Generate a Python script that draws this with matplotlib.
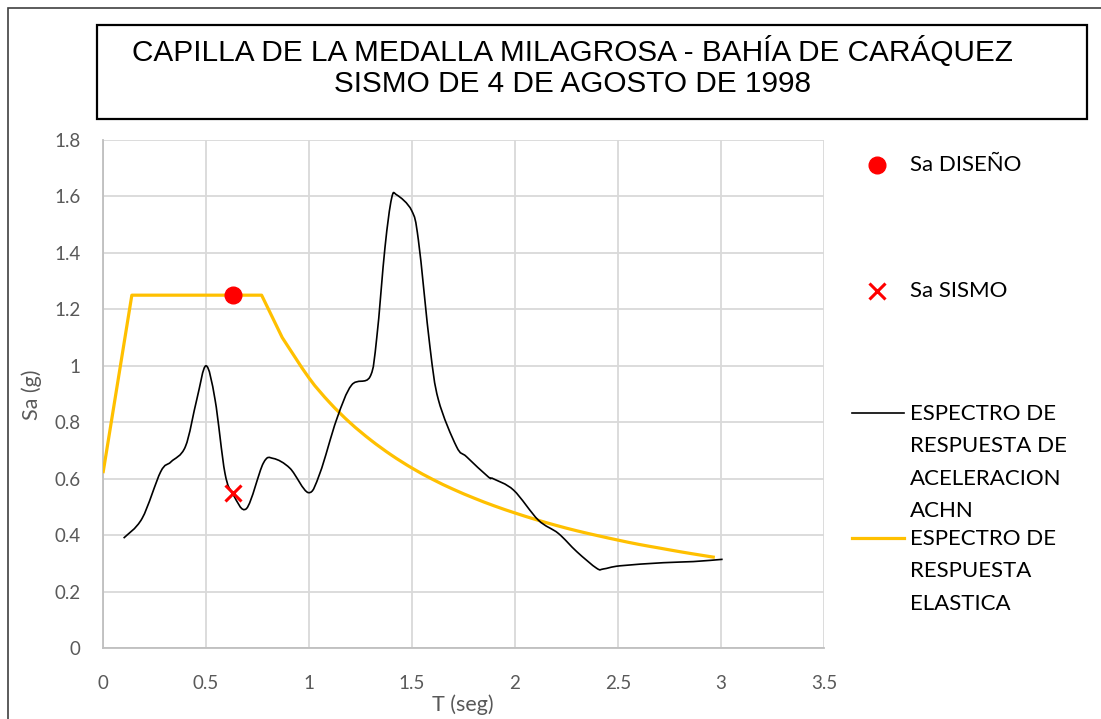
import matplotlib.pyplot as plt
from matplotlib.lines import Line2D
from matplotlib.patches import Rectangle, PathPatch
from matplotlib.path import Path

# Espectro de respuesta de aceleración ACHN (registro del sismo)
t_achn = [0.10, 0.19, 0.28, 0.33, 0.40, 0.455, 0.50, 0.544, 0.592, 0.633, 0.697,
          0.778, 0.827, 0.908, 0.997, 1.053, 1.134, 1.207, 1.296, 1.329, 1.369,
          1.401, 1.426, 1.498, 1.531, 1.587, 1.628, 1.716, 1.765, 1.870, 1.895,
          1.993, 2.113, 2.21, 2.30, 2.397, 2.43, 2.51, 2.72, 2.866, 3.008]
sa_achn = [0.39, 0.46, 0.625, 0.66, 0.714, 0.88, 1.00, 0.88, 0.62, 0.543, 0.495,
           0.655, 0.672, 0.637, 0.551, 0.62, 0.81, 0.932, 0.961, 1.10, 1.42,
           1.593, 1.605, 1.55, 1.445, 1.068, 0.88, 0.714, 0.678, 0.607, 0.60,
           0.56, 0.454, 0.407, 0.342, 0.283, 0.281, 0.292, 0.303, 0.307, 0.315]

# Espectro de respuesta elástico (diseño)
t_elas = [0.0, 0.14, 0.77, 0.87, 1.0, 1.1, 1.2, 1.3, 1.4, 1.5, 1.6, 1.7, 1.8,
          1.9, 2.0, 2.1, 2.2, 2.3, 2.4, 2.5, 2.6, 2.7, 2.8, 2.9, 2.97]
sa_elas = [0.62, 1.25, 1.25, 1.10, 0.957, 0.87, 0.798, 0.737, 0.684, 0.638, 0.598,
           0.563, 0.532, 0.504, 0.479, 0.456, 0.435, 0.416, 0.399, 0.383, 0.368,
           0.355, 0.342, 0.330, 0.322]

# Puntos de la estructura
t_diseno, sa_diseno = [0.63], [1.25]
t_sismo, sa_sismo = [0.63], [0.55]

x_ticks = [0, 0.5, 1, 1.5, 2, 2.5, 3, 3.5]
y_ticks = [0, 0.2, 0.4, 0.6, 0.8, 1.0, 1.2, 1.4, 1.6, 1.8]

GRIS = '#595959'
AMARILLO = '#FFC000'
ROJO = '#FF0000'

plt.rcParams['font.family'] = ['Lato', 'DejaVu Sans']

W, H = 1101, 719
fig = plt.figure(figsize=(W / 100, H / 100), dpi=100)
fig.patch.set_facecolor('white')

def fx(px):
    return px / W

def fy(py):
    return 1 - py / H

def curva_suave(xs, ys, desde=0):
    # tramos rectos hasta el punto `desde`, luego Bezier cúbica (Catmull-Rom)
    pts = list(zip(xs, ys))
    verts = [pts[0]]
    codes = [Path.MOVETO]
    n = len(pts)
    for i in range(n - 1):
        p1 = pts[i]
        p2 = pts[i + 1]
        if i < desde:
            verts.append(p2)
            codes.append(Path.LINETO)
            continue
        p0 = pts[i - 1] if i > desde else pts[i]
        p3 = pts[i + 2] if i + 2 < n else pts[i + 1]
        c1 = (p1[0] + (p2[0] - p0[0]) / 6, p1[1] + (p2[1] - p0[1]) / 6)
        c2 = (p2[0] - (p3[0] - p1[0]) / 6, p2[1] - (p3[1] - p1[1]) / 6)
        verts += [c1, c2, p2]
        codes += [Path.CURVE4] * 3
    return Path(verts, codes)

# Marco exterior
fig.add_artist(Rectangle((fx(8), fy(740)), fx(1120) - fx(8), fy(8) - fy(740),
                         transform=fig.transFigure, fill=False,
                         edgecolor='#404040', linewidth=1.2))

# Caja del título
fig.add_artist(Rectangle((fx(97), fy(119)), fx(1087) - fx(97), fy(25) - fy(119),
                         transform=fig.transFigure, fill=False,
                         edgecolor='black', linewidth=1.6))
fig.text(fx(572), fy(51), "CAPILLA DE LA MEDALLA MILAGROSA - BAHÍA DE CARÁQUEZ",
         ha='center', va='center', fontsize=21.4, family='Liberation Sans', color='black')
fig.text(fx(572), fy(84), "SISMO DE 4 DE AGOSTO DE 1998",
         ha='center', va='center', fontsize=21.4, family='Liberation Sans', color='black')

ax = fig.add_axes([fx(103), fy(648.3), fx(824) - fx(103), fy(139.8) - fy(648.3)])
ax.set_xlim(0, 3.5)
ax.set_ylim(0, 1.8)
ax.set_xticks(x_ticks)
ax.set_xticklabels([f"{v:g}" for v in x_ticks])
ax.set_yticks(y_ticks)
ax.set_yticklabels([f"{v:g}" for v in y_ticks])
ax.grid(True, color='#D9D9D9', linewidth=1.3)
ax.set_axisbelow(True)
for s in ['top', 'right']:
    ax.spines[s].set_visible(False)
for s in ['left', 'bottom']:
    ax.spines[s].set_color('#BFBFBF')
    ax.spines[s].set_linewidth(1.3)
ax.tick_params(length=0, labelsize=13.5, labelcolor=GRIS)
ax.tick_params(axis='x', pad=19)
ax.tick_params(axis='y', pad=16)

ax.add_patch(PathPatch(curva_suave(t_elas, sa_elas, desde=3), fill=False,
                       edgecolor=AMARILLO, linewidth=2.3, joinstyle='round', zorder=3))
ax.add_patch(PathPatch(curva_suave(t_achn, sa_achn), fill=False, edgecolor='black',
                       linewidth=1.2, zorder=4))
ax.plot(t_diseno, sa_diseno, 'o', color=ROJO, markersize=12, zorder=5)
ax.plot(t_sismo, sa_sismo, 'x', color=ROJO, markersize=11, markeredgewidth=2.2, zorder=5)

fig.text(fx(463), fy(705), "T (seg)", ha='center', va='center', fontsize=15.5, color=GRIS)
fig.text(fx(32), fy(395), "Sa (g)", ha='center', va='center', rotation=90,
         fontsize=15.5, color=GRIS)

# Leyenda a la derecha
fig.add_artist(Line2D([fx(877)], [fy(165)], marker='o', color=ROJO,
                      markersize=12, transform=fig.transFigure))
fig.add_artist(Line2D([fx(877)], [fy(291)], marker='x', color=ROJO, linestyle='none',
                      markersize=11, markeredgewidth=2.2, transform=fig.transFigure))
fig.add_artist(Line2D([fx(852), fx(904)], [fy(413), fy(413)], color='black',
                      linewidth=1.2, transform=fig.transFigure))
fig.add_artist(Line2D([fx(852), fx(904)], [fy(538), fy(538)], color=AMARILLO,
                      linewidth=2.3, transform=fig.transFigure))

leg_kw = dict(ha='left', va='center', fontsize=16, color='black')
fig.text(fx(910), fy(165), "Sa DISEÑO", **leg_kw)
fig.text(fx(910), fy(291), "Sa SISMO", **leg_kw)
fig.text(fx(910), fy(414), "ESPECTRO DE", **leg_kw)
fig.text(fx(910), fy(446), "RESPUESTA DE", **leg_kw)
fig.text(fx(910), fy(479), "ACELERACION", **leg_kw)
fig.text(fx(910), fy(511), "ACHN", **leg_kw)
fig.text(fx(910), fy(539), "ESPECTRO DE", **leg_kw)
fig.text(fx(910), fy(571), "RESPUESTA", **leg_kw)
fig.text(fx(910), fy(604), "ELASTICA", **leg_kw)

fig.savefig("out.png", dpi=100)
